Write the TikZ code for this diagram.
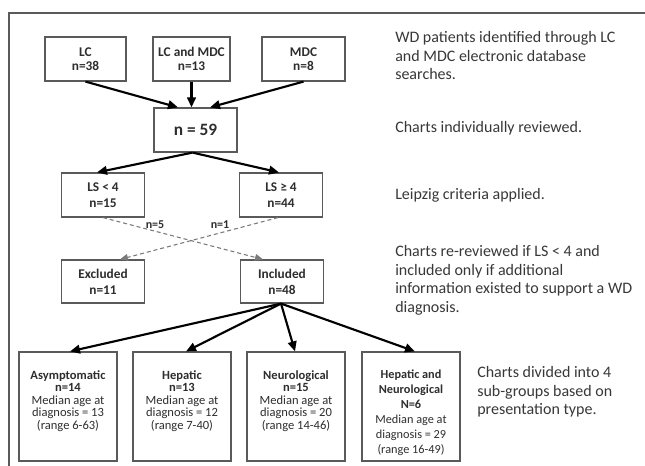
\documentclass[tikz,border=0pt]{standalone}
\usepackage{fontspec}
\setmainfont{Carlito}
\usetikzlibrary{arrows.meta,calc}
\definecolor{boxgray}{HTML}{5A5A5A}
\definecolor{txt}{HTML}{2E2E2E}
\definecolor{rtxt}{HTML}{383838}
\definecolor{dashgray}{HTML}{7A7A7A}
\begin{document}
\begin{tikzpicture}[x=0.75pt,y=-0.75pt,
  box/.style={draw=boxgray,line width=0.9pt,align=center,text=txt,inner sep=0pt},
  topbox/.style={box,minimum height=44*0.75pt,font=\fontsize{10}{10.5}\selectfont\bfseries},
  midbox/.style={box,minimum width=83*0.75pt,minimum height=44*0.75pt,font=\fontsize{10}{12}\selectfont\bfseries},
  botbox/.style={box,minimum width=98*0.75pt,minimum height=109*0.75pt},
  btext/.style={align=center,text=txt,inner sep=0pt,font=\fontsize{9.4}{9.4}\selectfont},
  arr/.style={line width=1.6pt,-{Triangle[length=7.5pt,width=6.5pt]}},
  darr/.style={draw=dashgray,line width=0.8pt,dash pattern=on 3pt off 2.2pt,-{Triangle[length=6pt,width=5pt]}},
  lbl/.style={inner sep=0pt,text=txt,font=\fontsize{9}{9}\selectfont\bfseries},
  side/.style={anchor=base west,align=left,text=rtxt,inner sep=0pt,font=\fontsize{12}{14}\selectfont},
  sidem/.style={side,anchor=north west}
]
\useasboundingbox (0,0) rectangle (645,466);
\fill[white] (0,0) rectangle (645,466);
% outer frame
\draw[boxgray,line width=1.1pt] (645,13) -- (9,13) -- (9,466);

% top row
\node[topbox,minimum width=81*0.75pt] (lc) at (85.5,59) {LC\\n=38};
\node[topbox,minimum width=77*0.75pt] (lcm) at (191.5,59) {LC and MDC\\n=13};
\node[topbox,minimum width=83*0.75pt] (mdc) at (303.5,59) {MDC\\n=8};
\node[box,minimum width=83*0.75pt,minimum height=44*0.75pt,font=\fontsize{13}{14}\selectfont\bfseries] (n59) at (195.5,130) {n = 59};

% Leipzig
\node[midbox] (lsl) at (103,195) {LS < 4\\n=15};
\node[midbox] (lsg) at (281,195) {LS ≥ 4\\n=44};

% excluded / included
\node[midbox,minimum height=43*0.75pt] (excl) at (103,281.5) {Excluded\\n=11};
\node[midbox,minimum height=43*0.75pt] (incl) at (282,281.5) {Included\\n=48};

% bottom boxes
\node[botbox] (asym) at (68,406.5) {};
\node[botbox] (hep) at (182,406.5) {};
\node[botbox] (neur) at (296,406.5) {};
\node[botbox] (hn) at (411,406.5) {};
\node[btext] (asymt) at (68,401) {\textbf{Asymptomatic}\\\textbf{n=14}\\Median age at\\diagnosis = 13\\(range 6-63)};
\node[btext] (hept) at (182,401) {\textbf{Hepatic}\\\textbf{n=13}\\Median age at\\diagnosis = 12\\(range 7-40)};
\node[btext] (neurt) at (296,401) {\textbf{Neurological}\\\textbf{n=15}\\Median age at\\diagnosis = 20\\(range 14-46)};
\node[btext,font=\fontsize{9.2}{11.2}\selectfont] (hnt) at (411,412.5) {\textbf{Hepatic and}\\\textbf{Neurological}\\\textbf{N=6}\\Median age at\\diagnosis = 29\\(range 16-49)};

% arrows
\draw[arr] (lc.south) -- ($(n59.north)+(-17.5,0)$);
\draw[arr] (lcm.south) -- (lcm.south |- n59.north);
\draw[arr] (mdc.south) -- ($(n59.north)+(14.5,0)$);
\draw[arr] ($(n59.south)+(-3,0)$) -- ($(lsl.north)+(-6,0)$);
\draw[arr] ($(n59.south)+(-3,0)$) -- ($(lsg.north)+(-2,0)$);
\draw[darr] (lsl.south) -- ($(incl.north)+(-19,0)$);
\draw[darr] ($(lsg.south)+(-3,0)$) -- ($(excl.north)+(17,0)$);
\node[lbl] (n5) at (155,225) {n=5};
\node[lbl] (n1) at (220,225) {n=1};
\draw[arr] ($(incl.south)+(-1,0)$) -- ($(asym.north)+(2,0)$);
\draw[arr] ($(incl.south)+(-1,0)$) -- ($(hep.north)+(4,0)$);
\draw[arr] ($(incl.south)+(-1,0)$) -- ($(neur.north)+(-1,0)$);
\draw[arr] ($(incl.south)+(-1,0)$) -- ($(hn.north)+(4,0)$);

% side texts
\node[sidem] (s1) at (395,31) {WD patients identified through LC\\and MDC electronic database\\searches.};
\node[side] (s2) at (395,133) {Charts individually reviewed.};
\node[side] (s3) at (395,200) {Leipzig criteria applied.};
\node[sidem] (s4) at (395,245) {Charts re-reviewed if LS < 4 and\\included only if additional\\information existed to support a WD\\diagnosis.};
\node[sidem] (s5) at (477,366) {Charts divided into 4\\sub-groups based on\\presentation type.};
\end{tikzpicture}
\end{document}
